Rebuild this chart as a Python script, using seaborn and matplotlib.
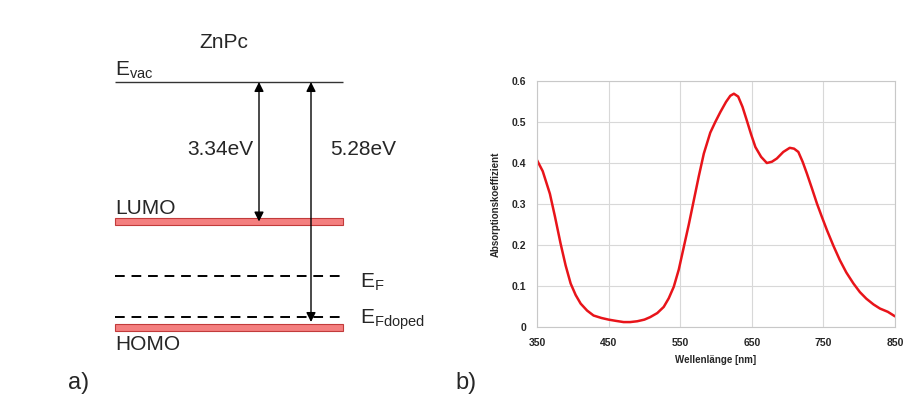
import numpy as np
import pandas as pd
import seaborn as sns
from matplotlib import pyplot as plt

# --- b) absorption spectrum of ZnPc (read off the picture)
wavelength = [350, 358, 368, 375, 383, 390, 397, 404, 411, 420, 429, 440, 450, 460, 471,
              480, 490, 500, 508, 518, 527, 534, 541, 548, 555, 562, 569, 576, 583,
              592, 599, 606, 614, 620, 625, 631, 637, 643, 649, 655, 663, 671, 678,
              685, 694, 703, 709, 715, 721, 727, 734, 741, 748, 755, 764, 773, 782,
              792, 801, 810, 820, 829, 840, 850]
absorption = [0.407, 0.380, 0.325, 0.270, 0.203, 0.150, 0.106, 0.078, 0.057, 0.040, 0.028,
              0.022, 0.018, 0.015, 0.012, 0.012, 0.014, 0.018, 0.024, 0.034, 0.049, 0.070,
              0.098, 0.140, 0.195, 0.250, 0.309, 0.368, 0.423, 0.474, 0.500, 0.524, 0.549,
              0.564, 0.569, 0.562, 0.537, 0.504, 0.470, 0.439, 0.415, 0.400, 0.403, 0.411,
              0.427, 0.437, 0.435, 0.427, 0.403, 0.374, 0.338, 0.301, 0.268, 0.236, 0.198,
              0.163, 0.133, 0.106, 0.085, 0.069, 0.055, 0.045, 0.037, 0.026]
x_ticks = [350, 450, 550, 650, 750, 850]
y_ticks = [0, 0.1, 0.2, 0.3, 0.4, 0.5, 0.6]
y_ticklabels = ['0', '0.1', '0.2', '0.3', '0.4', '0.5', '0.6']

# --- a) schematic energy levels of ZnPc (schematic heights, top = vacuum)
level_names = ['LUMO', 'HOMO']
level_heights = [221.5, 327.5]
fermi_names = ['E$_F$', 'E$_{Fdoped}$']
fermi_heights = [276, 317]
vac_height = 82
gap_labels = ['3.34eV', '5.28eV']
gap_targets = [221.5, 322]

sns.set_style('white')
plt.rcParams['font.family'] = ['Liberation Sans', 'DejaVu Sans']
plt.rcParams['mathtext.default'] = 'regular'

fig = plt.figure(figsize=(9.19, 4.05), dpi=100)

# left: band diagram drawn in a pixel-like frame
ax1 = fig.add_axes([0, 0, 0.5, 1])
ax1.set_xlim(0, 459.5)
ax1.set_ylim(405, 0)
ax1.axis('off')

x0, x1 = 115, 343
ax1.hlines(vac_height, x0, x1, color='#333333', lw=1)
ax1.text(115, 76, 'E$_{vac}$', fontsize=15, ha='left', va='baseline')
ax1.text(224, 48, 'ZnPc', fontsize=15, ha='center', va='baseline')

ax1.barh(level_heights, x1 - x0, left=x0, height=7, color='#f47f7f',
         edgecolor='#c23b3b', linewidth=0.8)
ax1.text(115, 214, level_names[0], fontsize=15, ha='left', va='baseline')
ax1.text(115, 350, level_names[1], fontsize=15, ha='left', va='baseline')

ax1.hlines(fermi_heights, x0, x1, color='black', lw=1.4, linestyles=(0, (5, 3.5)))
ax1.text(360, 288, fermi_names[0], fontsize=15, ha='left', va='baseline')
ax1.text(360, 324, fermi_names[1], fontsize=15, ha='left', va='baseline')

arrow_x = [259, 311]
for xa, target, lab, tx in zip(arrow_x, gap_targets, gap_labels, [187, 330]):
    ax1.annotate('', xy=(xa, target), xytext=(xa, vac_height),
                 arrowprops=dict(arrowstyle='<|-|>', color='black', lw=1,
                                 mutation_scale=14, shrinkA=0, shrinkB=0))
    ax1.text(tx, 155, lab, fontsize=15, ha='left', va='baseline')

ax1.text(68, 389, 'a)', fontsize=17, ha='left', va='baseline')
ax1.text(455, 389, 'b)', fontsize=17, ha='left', va='baseline')

# right: absorption spectrum
ax2 = fig.add_axes([537 / 919, 78 / 405, 358 / 919, 246 / 405])
df = pd.DataFrame({'wl': wavelength, 'abs': absorption})
sns.lineplot(data=df, x='wl', y='abs', ax=ax2, color='#e8141a', lw=1.8)
ax2.set_xlim(350, 850)
ax2.set_ylim(0, 0.6)
ax2.set_xticks(x_ticks)
ax2.set_yticks(y_ticks)
ax2.set_yticklabels(y_ticklabels)
ax2.grid(True, color='#d8d8d8', lw=0.8)
for s in ax2.spines.values():
    s.set_color('#c8c8c8')
    s.set_linewidth(0.8)
ax2.tick_params(length=0, labelsize=7.5, pad=8)
for t in ax2.get_xticklabels() + ax2.get_yticklabels():
    t.set_fontweight('bold')
ax2.set_xlabel('Wellenlänge [nm]', fontsize=7, fontweight='bold', labelpad=5)
ax2.set_ylabel('Absorptionskoeffizient', fontsize=7, fontweight='bold', labelpad=8)

plt.savefig('out.png', dpi=100)
plt.close()
